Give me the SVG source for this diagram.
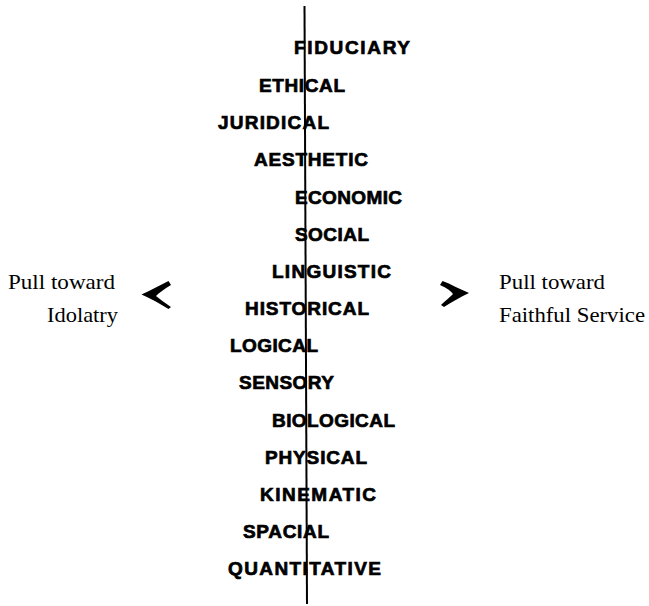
<svg xmlns="http://www.w3.org/2000/svg" width="649" height="606" viewBox="0 0 649 606">
  <style>
    .aspect { font-family: "Liberation Sans", Arial, sans-serif; font-weight: bold; font-size: 19px; fill: #000; stroke: #000; stroke-width: 0.7; }
    .pull { font-family: "Liberation Serif", "Times New Roman", serif; font-size: 21px; fill: #000; }
    .axis { stroke: #000; stroke-width: 2; fill: none; }
    .chevron { fill: #000; }
  </style>

  <!-- central dividing axis -->
  <g id="connectors">
    <line class="axis" x1="304.5" y1="6" x2="307" y2="604"/>
  </g>

  <!-- modal aspects, from top to bottom -->
  <g id="fiduciary"><text class="aspect" x="294" y="54" textLength="116" lengthAdjust="spacing">FIDUCIARY</text></g>
  <g id="ethical"><text class="aspect" x="259" y="92" textLength="86" lengthAdjust="spacing">ETHICAL</text></g>
  <g id="juridical"><text class="aspect" x="218" y="129" textLength="111" lengthAdjust="spacing">JURIDICAL</text></g>
  <g id="aesthetic"><text class="aspect" x="254" y="166" textLength="114" lengthAdjust="spacing">AESTHETIC</text></g>
  <g id="economic"><text class="aspect" x="295" y="204" textLength="107" lengthAdjust="spacing">ECONOMIC</text></g>
  <g id="social"><text class="aspect" x="295" y="241" textLength="74" lengthAdjust="spacing">SOCIAL</text></g>
  <g id="linguistic"><text class="aspect" x="272" y="278" textLength="119" lengthAdjust="spacing">LINGUISTIC</text></g>
  <g id="historical"><text class="aspect" x="245" y="315" textLength="124" lengthAdjust="spacing">HISTORICAL</text></g>
  <g id="logical"><text class="aspect" x="230" y="352" textLength="88" lengthAdjust="spacing">LOGICAL</text></g>
  <g id="sensory"><text class="aspect" x="239" y="389" textLength="95" lengthAdjust="spacing">SENSORY</text></g>
  <g id="biological"><text class="aspect" x="272" y="427" textLength="123" lengthAdjust="spacing">BIOLOGICAL</text></g>
  <g id="physical"><text class="aspect" x="265" y="464" textLength="102" lengthAdjust="spacing">PHYSICAL</text></g>
  <g id="kinematic"><text class="aspect" x="260" y="501" textLength="116" lengthAdjust="spacing">KINEMATIC</text></g>
  <g id="spacial"><text class="aspect" x="243" y="538" textLength="86" lengthAdjust="spacing">SPACIAL</text></g>
  <g id="quantitative"><text class="aspect" x="228" y="575" textLength="153" lengthAdjust="spacing">QUANTITATIVE</text></g>

  <!-- left pull -->
  <g id="pull-idolatry">
    <text class="pull" x="8" y="289" textLength="107" lengthAdjust="spacingAndGlyphs">Pull toward</text>
    <text class="pull" x="47" y="322" textLength="71" lengthAdjust="spacingAndGlyphs">Idolatry</text>
    <path class="chevron" d="M141.5,294.5 C152,290 160,285 168.5,281 L171,285 C164,289 159,293 156,296 C160,299 165,303 171,307 L168.5,309 C160,304 152,299 141.5,294.5 Z"/>
  </g>

  <!-- right pull -->
  <g id="pull-service">
    <path class="chevron" d="M469,293 C459,289 451,284 442.5,281 L440,285 C447,288 451,291 453,294 C450,297 445,301 441,305 L444,307 C452,302 460,297 469,293 Z"/>
    <text class="pull" x="499" y="289" textLength="106" lengthAdjust="spacingAndGlyphs">Pull toward</text>
    <text class="pull" x="499" y="322" textLength="146" lengthAdjust="spacingAndGlyphs">Faithful Service</text>
  </g>
</svg>
